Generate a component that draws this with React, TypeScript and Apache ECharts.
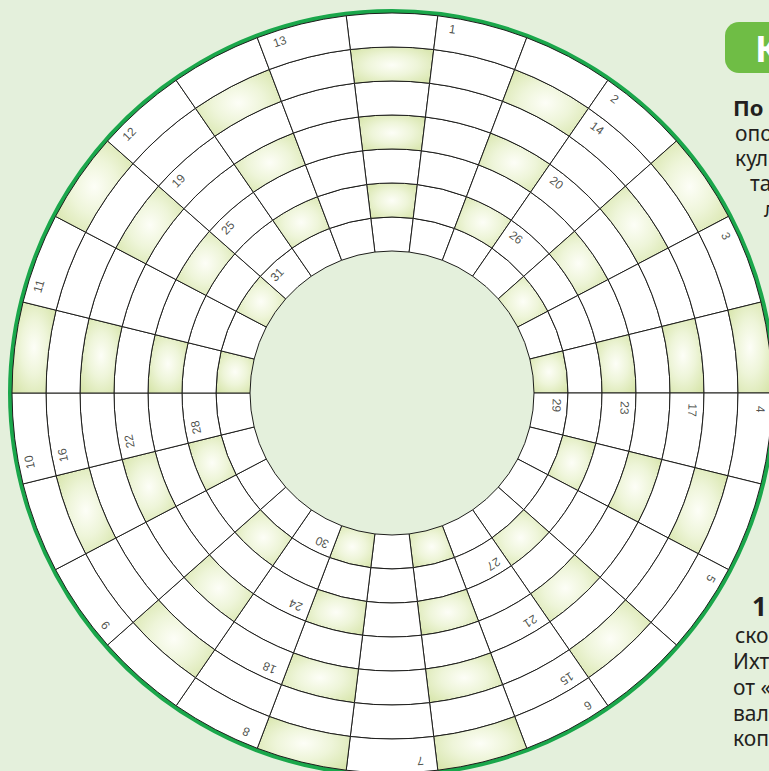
import React, { useEffect, useRef } from "react";
import * as echarts from "echarts";

// 26 angular sectors, sector 0 centred at 12 o'clock, going clockwise
const sectorNames: string[] = [
  "S0", "S1", "S2", "S3", "S4", "S5", "S6", "S7", "S8", "S9", "S10", "S11", "S12",
  "S13", "S14", "S15", "S16", "S17", "S18", "S19", "S20", "S21", "S22", "S23", "S24", "S25",
];

// rings numbered 1 (outer) .. 7 (inner), listed from the inside out for stacking
const ringNumbers: number[] = [7, 6, 5, 4, 3, 2, 1];

// shaded rings in each sector
const shadedRings: number[][] = [
  [2, 4, 6], [], [2, 4, 6], [], [1, 3, 5, 7], [], [1, 3, 5, 7], [],
  [2, 4, 6], [], [2, 4, 6], [], [1, 3, 5, 7], [], [1, 3, 5, 7], [],
  [2, 4, 6], [], [2, 4, 6], [], [1, 3, 5, 7], [], [1, 3, 5, 7], [],
  [2, 4, 6], [],
];

// clue numbers, with the sector and ring of their cell
const clueNumbers: number[] = [1, 2, 14, 20, 26, 3, 4, 17, 23, 29, 5, 6, 15, 21, 27, 7, 8, 18, 24, 30, 9, 10, 16, 22, 28, 11, 12, 19, 25, 31, 13];
const clueSectors: number[] = [1, 3, 3, 3, 3, 5, 7, 7, 7, 7, 9, 11, 11, 11, 11, 13, 15, 15, 15, 15, 17, 19, 19, 19, 19, 21, 23, 23, 23, 23, 25];
const clueRings: number[] = [1, 1, 2, 4, 6, 1, 1, 3, 5, 7, 1, 1, 2, 4, 6, 1, 1, 3, 5, 7, 1, 1, 2, 4, 6, 1, 1, 3, 5, 7, 1];

// side text fragments
const sideTopLines: string[] = ["опо", "кул", "та", "л"];
const sideBottomLines: string[] = ["ско", "Ихт", "от «", "вал", "коп"];

const SECTOR_DEG = 360 / sectorNames.length;
const START_ANGLE = 90 + SECTOR_DEG / 2;

const shade = () => ({
  type: "radial",
  x: 0.5,
  y: 0.5,
  r: 0.75,
  colorStops: [
    { offset: 0, color: "#fdfef7" },
    { offset: 0.4, color: "#eef5d9" },
    { offset: 1, color: "#d0e09c" },
  ],
});

export default function App() {
  const ref = useRef<HTMLDivElement>(null);
  useEffect(() => {
    if (!ref.current) return;
    const chart = echarts.init(ref.current, undefined, { renderer: "svg" });
    const center = [392, 393];

    const ringSeries = ringNumbers.map((ring) => ({
      type: "bar",
      coordinateSystem: "polar",
      polarIndex: 0,
      stack: "grid",
      barCategoryGap: "0%",
      silent: true,
      itemStyle: { borderColor: "#1e1e1c", borderWidth: 1 },
      data: sectorNames.map((_, s) => ({
        value: 1,
        itemStyle: { color: shadedRings[s].includes(ring) ? shade() : "#ffffff" },
      })),
    }));

    const labelSeries = {
      type: "scatter",
      coordinateSystem: "polar",
      polarIndex: 1,
      symbolSize: 1,
      silent: true,
      itemStyle: { color: "rgba(0,0,0,0)" },
      z: 5,
      data: clueNumbers.map((n, i) => {
        const angle = clueSectors[i] * SECTOR_DEG - SECTOR_DEG / 2 + 2;
        const radius = 7.5 - clueRings[i] + 0.17;
        return {
          value: [radius, angle],
          label: {
            show: true,
            formatter: String(n),
            position: "inside",
            align: "left",
            verticalAlign: "middle",
            rotate: -angle,
            fontSize: 12,
            fontFamily: "Liberation Sans, Arial, sans-serif",
            color: "#231f20",
          },
        };
      }),
    };

    const font = "Noto Sans, Open Sans, sans-serif";
    const textColor = "#231f20";
    const graphic: any[] = [
      { type: "rect", shape: { x: 725, y: 22, width: 80, height: 51, r: 14 }, style: { fill: "#6fbd45" } },
      { type: "text", x: 755, y: 48, style: { text: "К", fill: "#ffffff", font: `bold 36px ${font}`, verticalAlign: "middle" } },
      { type: "text", x: 733, y: 107, style: { text: "По", fill: textColor, font: `bold 22px ${font}`, verticalAlign: "middle" } },
      { type: "text", x: 752, y: 606, style: { text: "1", fill: textColor, font: `bold 26px ${font}`, verticalAlign: "middle" } },
    ];
    const topX = [735, 735, 750, 764];
    const topY = [133, 158, 183, 209];
    sideTopLines.forEach((t, i) =>
      graphic.push({ type: "text", x: topX[i], y: topY[i], style: { text: t, fill: textColor, font: `21px ${font}`, verticalAlign: "middle" } })
    );
    const botX = [735, 733, 733, 733, 733];
    const botY = [635, 661, 687, 713, 738];
    sideBottomLines.forEach((t, i) =>
      graphic.push({ type: "text", x: botX[i], y: botY[i], style: { text: t, fill: textColor, font: `21px ${font}`, verticalAlign: "middle" } })
    );

    chart.setOption({
      animation: false,
      backgroundColor: "#e4f0dc",
      polar: [
        { center, radius: [142, 380] },
        { center, radius: [142, 380] },
        { center, radius: 381.5 },
      ],
      angleAxis: [
        {
          polarIndex: 0,
          type: "category",
          data: sectorNames,
          startAngle: START_ANGLE,
          clockwise: true,
          boundaryGap: true,
          axisLine: { show: false },
          axisTick: { show: false },
          axisLabel: { show: false },
          splitLine: { show: false },
        },
        {
          polarIndex: 1,
          type: "value",
          min: 0,
          max: 360,
          startAngle: 90,
          clockwise: true,
          show: false,
        },
        {
          polarIndex: 2,
          type: "value",
          min: 0,
          max: 360,
          startAngle: 90,
          axisLine: { show: true, lineStyle: { color: "#1aa74b", width: 5 } },
          axisTick: { show: false },
          axisLabel: { show: false },
          splitLine: { show: false },
        },
      ],
      radiusAxis: [
        { polarIndex: 0, type: "value", min: 0, max: 7, show: false },
        { polarIndex: 1, type: "value", min: 0, max: 7, show: false },
        { polarIndex: 2, type: "value", min: 0, max: 1, show: false },
      ],
      graphic,
      series: [...ringSeries, labelSeries],
    } as any);
    return () => chart.dispose();
  }, []);
  return <div ref={ref} style={{ position: "fixed", left: 0, top: 0, width: 769, height: 771 }} />;
}
